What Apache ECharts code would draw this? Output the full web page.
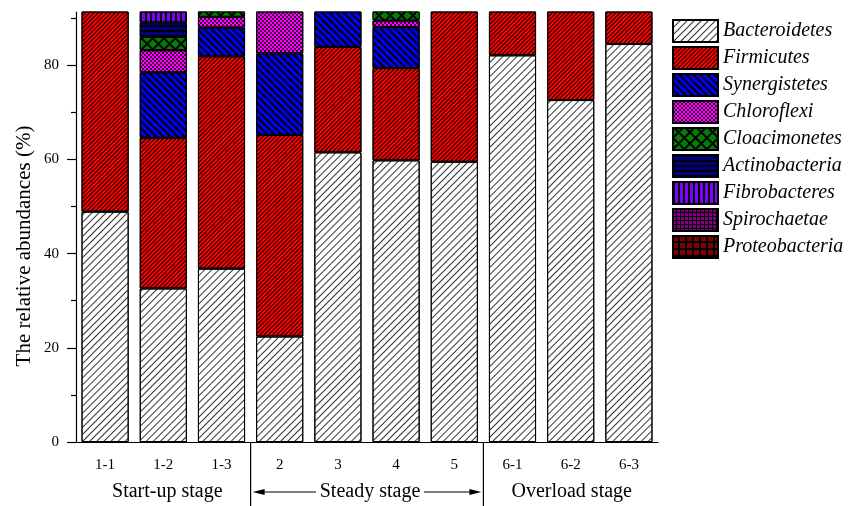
<!DOCTYPE html>
<html>
<head>
<meta charset="utf-8">
<script src="https://cdn.jsdelivr.net/npm/echarts@6/dist/echarts.min.js"></script>
<style>
html, body { margin: 0; padding: 0; background: #fff; }
#main { width: 856px; height: 506px; }
</style>
</head>
<body>
<div id="main"></div>
<script>
// samples (x axis)
var samples = ['1-1', '1-2', '1-3', '2', '3', '4', '5', '6-1', '6-2', '6-3'];

// relative abundances (%) (stacked, clipped at top)
var bacteroidetes   = [48.9, 32.6, 36.8, 22.4, 61.5, 59.8, 59.5, 82.1, 72.6, 84.5];
var firmicutes      = [51.1, 32.0, 45.1, 42.8, 22.4, 19.6, 40.5, 17.9, 27.4, 15.5];
var synergistetes   = [0, 13.9, 6.1, 17.3, 16.1, 8.7, 0, 0, 0, 0];
var chloroflexi     = [0, 4.7, 2.3, 17.5, 0, 1.4, 0, 0, 0, 0];
var cloacimonetes   = [0, 2.8, 2.0, 0, 0, 2.0, 0, 0, 0, 0];
var actinobacteria  = [0, 3.1, 0, 0, 0, 0, 0, 0, 0, 0];
var fibrobacteres   = [0, 3.0, 0, 0, 0, 0, 0, 0, 0, 0];
var spirochaetae    = [0, 1.5, 0, 0, 0, 0, 0, 0, 0, 0];
var proteobacteria  = [0, 1.2, 0, 0, 0, 0, 0, 0, 0, 0];

var yMajor = [0, 20, 40, 60, 80];
var yMinor = [10, 30, 50, 70, 90];

var FONT = 'Liberation Serif';

// fill colour + hatch decal for each phylum
function lines(rot, dash) {
    return { symbol: 'rect', symbolSize: 1, dashArrayX: [1, 0], dashArrayY: dash, rotation: rot, color: '#000' };
}
var phyla = [
    { name: 'Bacteroidetes', data: bacteroidetes, color: '#ffffff',
      decal: { symbol: 'rect', symbolSize: 1, dashArrayX: [1, 0], dashArrayY: [1, 3.6], rotation: -Math.PI / 4, color: '#333' } },
    { name: 'Firmicutes', data: firmicutes, color: '#ff0000', decal: lines(-Math.PI / 4, [1, 2]) },
    { name: 'Synergistetes', data: synergistetes, color: '#0000ff', decal: lines(Math.PI / 4, [1.2, 2.6]) },
    { name: 'Chloroflexi', data: chloroflexi, color: '#ff00ff',
      decal: { symbol: 'circle', symbolSize: 1, dashArrayX: [[1.6, 1.6], [0, 1.6, 1.6, 0]], dashArrayY: [1.6, 0], color: '#000' } },
    { name: 'Cloacimonetes', data: cloacimonetes, color: '#000000',
      decal: { symbol: 'rect', symbolSize: 1, dashArrayX: [5.5, 1.2], dashArrayY: [5.5, 1.2], rotation: Math.PI / 4, color: '#008000' } },
    { name: 'Actinobacteria', data: actinobacteria, color: '#000080', decal: lines(0, [1.2, 2.2]) },
    { name: 'Fibrobacteres', data: fibrobacteres, color: '#8000ff',
      decal: { symbol: 'rect', symbolSize: 1, dashArrayX: [1.2, 2.6], dashArrayY: [1, 0], color: '#000' } },
    { name: 'Spirochaetae', data: spirochaetae, color: '#000000',
      decal: { symbol: 'rect', symbolSize: 1, dashArrayX: [2.5, 1], dashArrayY: [2.5, 1], color: '#800080' } },
    { name: 'Proteobacteria', data: proteobacteria, color: '#000000',
      decal: { symbol: 'rect', symbolSize: 1, dashArrayX: [5, 1.2], dashArrayY: [5, 1.2], color: '#800000' } }
];

var chart = echarts.init(document.getElementById('main'));

var series = phyla.map(function (p) {
    return {
        name: p.name,
        type: 'bar',
        stack: 'total',
        barWidth: '81%',
        clip: true,
        data: p.data,
        itemStyle: { color: p.color, borderColor: '#000', borderWidth: 1, decal: p.decal }
    };
});

var option = {
    animation: false,
    backgroundColor: '#fff',
    textStyle: { fontFamily: FONT },
    grid: { left: 76, right: 198, top: 12, bottom: 64 },
    legend: {
        orient: 'vertical',
        left: 667,
        top: 14,
        icon: 'rect',
        itemWidth: 45,
        itemHeight: 22,
        itemGap: 3,
        data: phyla.map(function (p) { return p.name; }),
        textStyle: { fontFamily: FONT, fontStyle: 'italic', fontSize: 20, color: '#000' }
    },
    xAxis: [{
        type: 'category',
        data: samples,
        axisLine: { lineStyle: { color: '#000', width: 1.2 } },
        axisTick: { interval: 0, length: 5, lineStyle: { color: '#000', width: 1.2 } },
        axisLabel: { fontFamily: FONT, fontSize: 15, color: '#000', margin: 16 }
    }, {
        type: 'category',
        data: samples,
        position: 'bottom',
        axisLine: { show: false },
        axisTick: { alignWithLabel: true, interval: 0, length: 8, lineStyle: { color: '#000', width: 1.2 } },
        axisLabel: { show: false }
    }],
    yAxis: [{
        type: 'value',
        min: 0,
        max: 91.3,
        axisLine: { show: true, lineStyle: { color: '#000', width: 1.2 } },
        axisTick: { show: true, customValues: yMajor, length: 9, lineStyle: { color: '#000', width: 1.2 } },
        axisLabel: { customValues: yMajor, fontFamily: FONT, fontSize: 15, color: '#000', margin: 17 },
        splitLine: { show: false }
    }, {
        type: 'value',
        min: 0,
        max: 91.3,
        position: 'left',
        axisLine: { show: false },
        axisTick: { show: true, customValues: yMinor, length: 5, lineStyle: { color: '#000', width: 1.2 } },
        axisLabel: { show: false },
        splitLine: { show: false }
    }],
    series: series
};

chart.setOption(option);

// stage annotations under the axis
var c13 = chart.convertToPixel({ xAxisIndex: 0 }, '1-3');
var c2 = chart.convertToPixel({ xAxisIndex: 0 }, '2');
var c5 = chart.convertToPixel({ xAxisIndex: 0 }, '5');
var c61 = chart.convertToPixel({ xAxisIndex: 0 }, '6-1');
var c12 = chart.convertToPixel({ xAxisIndex: 0 }, '1-2');
var c62 = chart.convertToPixel({ xAxisIndex: 0 }, '6-2');
var y0 = chart.convertToPixel({ yAxisIndex: 0 }, 0);
var b1 = (c13 + c2) / 2;
var b2 = (c5 + c61) / 2;
var mid = (b1 + b2) / 2 + 3;
var ty = 492;
var half = 54;
var lineStyle = { stroke: '#000', lineWidth: 1.2 };

chart.setOption({
    graphic: [
        { type: 'text', x: 24, y: 246, rotation: Math.PI / 2,
          style: { text: 'The relative abundances (%)', font: '21px "' + FONT + '"', fill: '#000', align: 'center', verticalAlign: 'middle' } },
        { type: 'text', x: c12 + 4, y: ty,
          style: { text: 'Start-up stage', font: '20px "' + FONT + '"', fill: '#000', align: 'center', verticalAlign: 'middle' } },
        { type: 'text', x: mid, y: ty,
          style: { text: 'Steady stage', font: '20px "' + FONT + '"', fill: '#000', align: 'center', verticalAlign: 'middle' } },
        { type: 'text', x: c62 + 1, y: ty,
          style: { text: 'Overload stage', font: '20px "' + FONT + '"', fill: '#000', align: 'center', verticalAlign: 'middle' } },
        { type: 'line', shape: { x1: b1, y1: y0, x2: b1, y2: 506 }, style: lineStyle },
        { type: 'line', shape: { x1: b2, y1: y0, x2: b2, y2: 506 }, style: lineStyle },
        { type: 'line', shape: { x1: b1 + 12, y1: ty, x2: mid - half, y2: ty }, style: lineStyle },
        { type: 'line', shape: { x1: mid + half, y1: ty, x2: b2 - 12, y2: ty }, style: lineStyle },
        { type: 'polygon', shape: { points: [[b1 + 2, ty], [b1 + 14, ty - 3], [b1 + 14, ty + 3]] }, style: { fill: '#000' } },
        { type: 'polygon', shape: { points: [[b2 - 2, ty], [b2 - 14, ty - 3], [b2 - 14, ty + 3]] }, style: { fill: '#000' } }
    ]
});
</script>
</body>
</html>
